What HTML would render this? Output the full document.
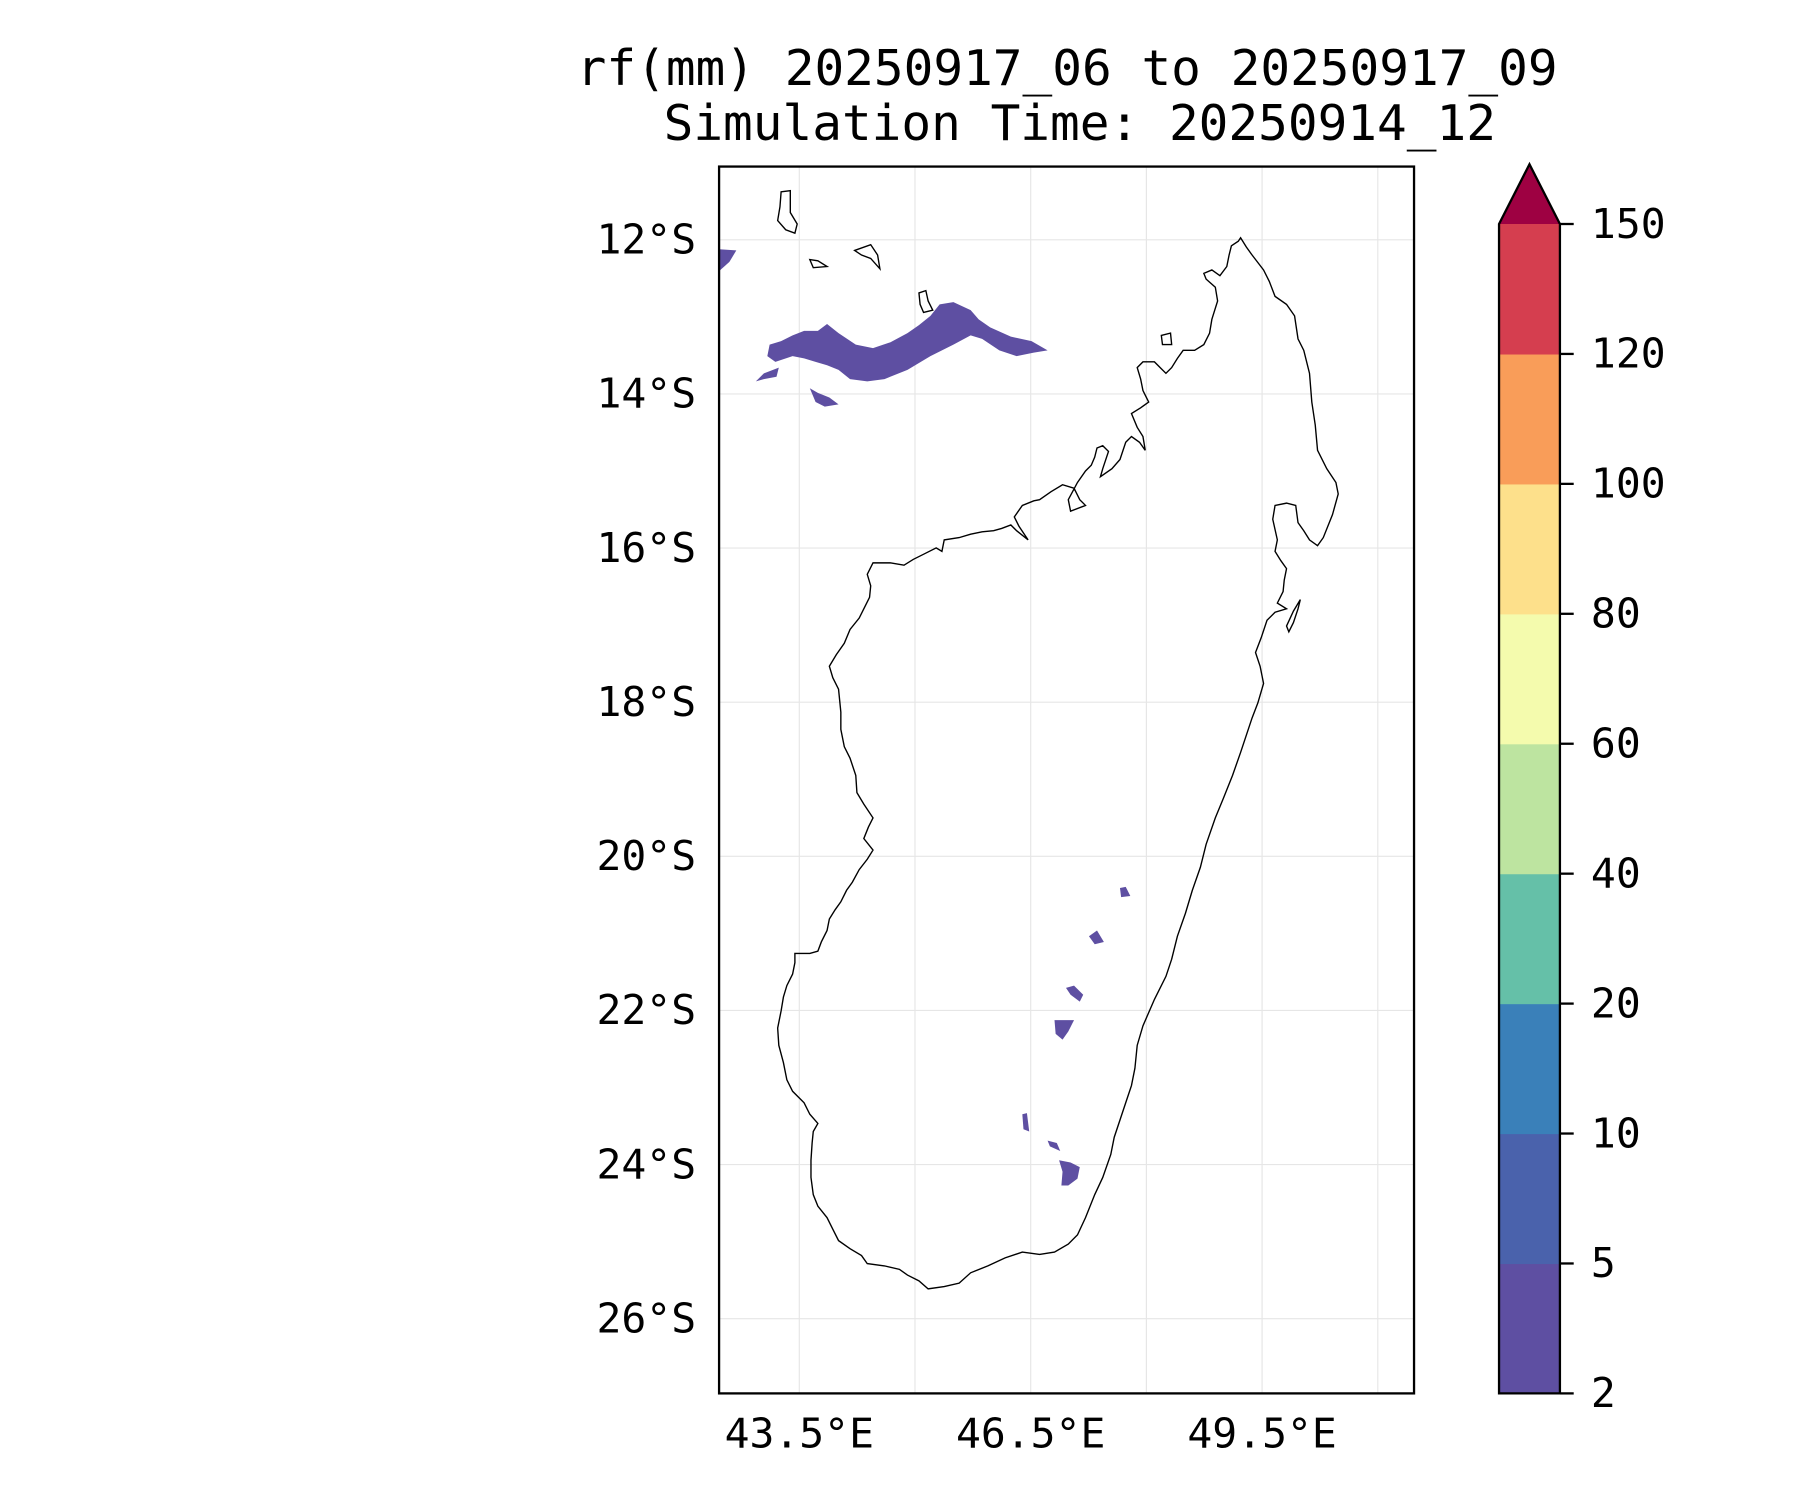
<!DOCTYPE html>
<html><head><meta charset="utf-8"><style>
html,body{margin:0;padding:0;background:#fff;}
svg{display:block;}
text{font-family:"DejaVu Sans Mono","Liberation Mono",monospace;fill:#000;}
</style></head><body>
<svg id="chart" width="1800" height="1500" viewBox="0 0 1567 1305.8" preserveAspectRatio="none" xmlns="http://www.w3.org/2000/svg">
<g>
<text x="929" y="74" font-size="43" text-anchor="middle">rf(mm) 20250917_06 to 20250917_09</text>
<text x="940" y="122" font-size="43" text-anchor="middle">Simulation Time: 20250914_12</text>
</g>
<defs><clipPath id="pc"><rect x="626" y="145" width="605" height="1068"/></clipPath></defs>
<g id="grid"></g>
<g clip-path="url(#pc)">
<g fill="#5e4fa2">
<polygon points="670,300 680,297 690,292 700,288 712,288 720,282 730,290 745,300 760,303 775,298 790,290 800,283 810,275 818,265 830,263 845,270 852,278 862,285 880,293 898,297 912,305 900,307 885,310 870,305 855,295 845,292 830,300 810,310 790,322 770,330 755,332 740,330 730,322 720,318 710,315 700,312 690,310 675,315 668,310"/>
<polygon points="658,332 665,325 678,320 676,328 665,330"/>
<polygon points="705,338 712,342 722,346 730,352 718,354 710,350"/>
<polygon points="626,217 641,218 635,228 626,236"/>
<polygon points="975,773 980,772 984,780 976,781"/>
<polygon points="948,815 955,810 961,820 953,822"/>
<polygon points="928,860 935,858 943,866 940,872 932,866"/>
<polygon points="918,888 935,888 930,898 925,905 919,900"/>
<polygon points="890,970 894,969 896,985 891,983"/>
<polygon points="912,993 920,995 923,1002 914,998"/>
<polygon points="922,1010 932,1012 940,1016 938,1026 930,1032 924,1032 925,1020"/>
</g>
<g fill="none" stroke="#000" stroke-width="1.2">
<polygon points="1080,207 1085,215 1090,222 1100,235 1105,245 1110,258 1120,265 1127,275 1130,295 1135,305 1140,325 1142,350 1145,370 1147,392 1155,408 1163,420 1165,430 1160,448 1152,468 1147,475 1140,470 1135,462 1130,455 1128,440 1120,438 1110,440 1108,452 1112,470 1110,480 1115,488 1120,495 1118,505 1117,515 1112,525 1120,530 1110,533 1103,540 1098,555 1093,568 1097,580 1100,595 1095,612 1090,625 1085,640 1080,655 1073,675 1065,695 1058,712 1050,735 1045,755 1038,775 1032,795 1025,815 1020,835 1015,850 1005,870 995,893 990,910 988,930 985,945 980,960 975,975 970,990 967,1005 960,1025 953,1040 945,1060 938,1075 930,1083 918,1090 905,1092 890,1090 875,1095 860,1102 845,1108 835,1117 822,1120 808,1122 800,1115 790,1110 783,1105 770,1102 755,1100 750,1093 740,1087 730,1080 725,1070 720,1060 712,1050 708,1040 706,1025 706,1010 707,995 708,985 712,978 705,970 700,960 690,950 685,940 682,925 678,910 677,895 680,880 682,868 685,858 690,848 692,838 692,830 705,830 712,828 715,820 720,810 722,800 727,792 732,785 737,775 742,768 748,757 755,748 760,740 752,730 756,720 760,712 752,700 746,690 745,675 740,660 735,650 732,635 732,620 730,600 725,590 722,580 728,570 735,560 740,548 748,538 752,530 757,520 758,510 755,500 760,490 775,490 787,492 795,487 805,482 815,477 820,480 822,470 835,468 845,465 855,463 865,462 872,460 880,457 885,462 895,470 887,458 883,450 890,440 900,436 905,435 915,428 925,422 935,425 940,435 945,440 932,445 930,435 938,420 945,410 950,405 953,398 955,390 960,388 965,393 960,408 958,415 968,408 975,400 980,385 985,380 992,385 997,392 995,380 990,372 985,360 993,355 1000,350 995,340 993,330 990,320 995,315 1005,315 1010,320 1015,325 1020,320 1025,312 1030,305 1040,305 1048,300 1053,290 1055,278 1060,262 1058,250 1050,243 1048,238 1055,235 1062,240 1068,232 1070,222 1072,214 1078,210"/>
<polygon points="680,167 688,166 688,185 694,195 692,203 684,200 677,192 679,180"/>
<polygon points="705,226 712,227 720,232 708,233"/>
<polygon points="744,218 758,213 764,222 766,234 758,225 750,222"/>
<polygon points="800,255 806,253 808,262 812,270 804,272 801,265"/>
<polygon points="1132,522 1130,530 1126,542 1122,550 1120,545 1126,532"/>
<polygon points="1011,292 1019,290 1020,300 1012,300"/>
</g>
</g>
<rect x="626" y="145" width="605" height="1068" fill="none" stroke="#000" stroke-width="2"/>
<g id="axes"></g>
<g id="cbar"></g>
</svg>
<script>
const latTicks = [-12, -14, -16, -18, -20, -22, -24, -26];
const lonTicks = [43.5, 46.5, 49.5];
const lonGrid = [43.5, 45, 46.5, 48, 49.5, 51];
const cbarLevels = [2, 5, 10, 20, 40, 60, 80, 100, 120, 150];
const cbarColors = ["#5e4fa2", "#4a62ac", "#3a80b9", "#65c0a8", "#bde4a0", "#f4fbad", "#fde08b", "#f99d59", "#d53e4f"];
const extendColor = "#9e0142";

const NS = "http://www.w3.org/2000/svg";
const X0 = 626, X1 = 1231, Y0 = 145, Y1 = 1213;
const LON0 = 42.46, LON1 = 51.47, LAT0 = -11.05, LAT1 = -26.97;
function xLon(v){ return X0 + (v - LON0) / (LON1 - LON0) * (X1 - X0); }
function yLat(v){ return Y0 + (v - LAT0) / (LAT1 - LAT0) * (Y1 - Y0); }
function mk(tag, attrs, parent){ const e = document.createElementNS(NS, tag); for (const k in attrs) e.setAttribute(k, attrs[k]); parent.appendChild(e); return e; }

const grid = document.getElementById('grid');
const axes = document.getElementById('axes');
latTicks.forEach(v => {
  const y = yLat(v);
  const gl = mk('line', {x1: X0, x2: X1, y1: y, y2: y, stroke: '#e6e6e6', 'stroke-width': 1}, grid);
  
  
  const t = mk('text', {x: 606, y: y + 12, 'font-size': 36, 'text-anchor': 'end'}, axes);
  t.textContent = Math.abs(v) + '°S';
  
  
});
lonGrid.forEach(v => {
  const x = xLon(v);
  const gl = mk('line', {x1: x, x2: x, y1: Y0, y2: Y1, stroke: '#e6e6e6', 'stroke-width': 1}, grid);
  
  
});
lonTicks.forEach(v => {
  const t = mk('text', {x: xLon(v), y: 1260, 'font-size': 36, 'text-anchor': 'middle'}, axes);
  t.textContent = v.toFixed(1) + '°E';
  
  
});

const cbar = document.getElementById('cbar');
const CX0 = 1305, CX1 = 1358, CY0 = 195, CY1 = 1213, TIP = 143;
const n = cbarLevels.length - 1;
function yLev(i){ return CY1 - i / n * (CY1 - CY0); }
cbarColors.forEach((c, i) => {
  const r = mk('rect', {x: CX0, y: yLev(i + 1), width: CX1 - CX0, height: yLev(i) - yLev(i + 1) + 0.5, fill: c}, cbar);
  
  
});
const tri = mk('polygon', {points: `${CX0},${CY0} ${(CX0 + CX1) / 2},${TIP} ${CX1},${CY0}`, fill: extendColor}, cbar);


const outline = mk('polygon', {points: `${CX0},${CY1} ${CX0},${CY0} ${(CX0 + CX1) / 2},${TIP} ${CX1},${CY0} ${CX1},${CY1}`, fill: 'none', stroke: '#000', 'stroke-width': 2}, cbar);


cbarLevels.forEach((v, i) => {
  const y = yLev(i);
  const tk = mk('line', {x1: CX1, x2: CX1 + 12, y1: y, y2: y, stroke: '#000', 'stroke-width': 2}, cbar);
  
  
  const t = mk('text', {x: 1385, y: y + 12, 'font-size': 36}, cbar);
  t.textContent = v;
  
  
});
</script>
</body></html>
